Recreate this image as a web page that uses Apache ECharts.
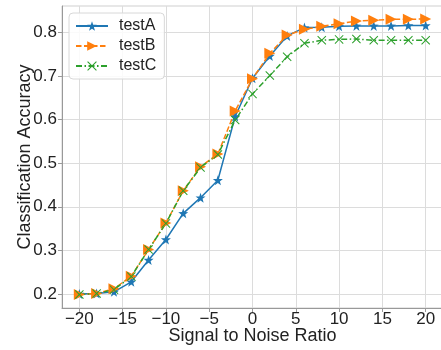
<!DOCTYPE html>
<html>
<head>
<meta charset="utf-8">
<script src="https://cdn.jsdelivr.net/npm/echarts@6/dist/echarts.min.js"></script>
<style>html,body{margin:0;padding:0;background:#fff}#c{width:441px;height:350px}</style>
</head>
<body>
<div id="c"></div>
<script>
const snr = [-20,-18,-16,-14,-12,-10,-8,-6,-4,-2,0,2,4,6,8,10,12,14,16,18,20];
const testA = [0.200,0.201,0.205,0.228,0.278,0.325,0.385,0.421,0.461,0.607,0.695,0.746,0.792,0.811,0.812,0.814,0.815,0.815,0.815,0.816,0.816];
const testB = [0.199,0.201,0.212,0.241,0.302,0.363,0.437,0.492,0.521,0.620,0.694,0.752,0.794,0.807,0.814,0.820,0.826,0.828,0.830,0.830,0.831];
const testC = [0.199,0.201,0.210,0.240,0.302,0.362,0.437,0.490,0.520,0.599,0.659,0.701,0.744,0.775,0.782,0.784,0.785,0.782,0.782,0.782,0.782];
const xTicks = [-20,-15,-10,-5,0,5,10,15,20];
const yTicks = [0.2,0.3,0.4,0.5,0.6,0.7,0.8];

const pair = (ys) => snr.map((x,i)=>[x, ys[i]]);
const star = 'path://M0,-10 L2.35,-3.24 L9.51,-3.09 L3.8,1.24 L5.88,8.09 L0,4 L-5.88,8.09 L-3.8,1.24 L-9.51,-3.09 L-2.35,-3.24 Z';
const xmark = 'path://M-5,-4.2 L-4.2,-5 L0,-0.8 L4.2,-5 L5,-4.2 L0.8,0 L5,4.2 L4.2,5 L0,0.8 L-4.2,5 L-5,4.2 L-0.8,0 Z';
const font = 'Liberation Sans, Arial, sans-serif';
const chart = echarts.init(document.getElementById('c'), null, {renderer:'canvas'});
chart.setOption({
  animation:false,
  backgroundColor:'#fff',
  grid:{left:62, top:6, width:381, height:302, show:true, borderColor:'#cfcfcf', borderWidth:1, containLabel:false, outerBoundsMode:'none'},
  xAxis:{
    type:'value', min:-22, max:22,
    axisLine:{show:true, onZero:false, lineStyle:{color:'#999', width:1}},
    axisTick:{show:true, customValues:xTicks, length:4, lineStyle:{color:'#999'}},
    axisLabel:{customValues:xTicks, margin:3, fontSize:17, color:'#222', fontFamily:font,
      formatter:(v)=>String(v).replace('-', '\u2212')},
    splitLine:{show:true, lineStyle:{color:'#dcdcdc', width:1}},
    name:'Signal to Noise Ratio', nameLocation:'middle', nameGap:19, nameMoveOverlap:false,
    nameTextStyle:{fontSize:18, color:'#222', fontFamily:font}
  },
  yAxis:{
    type:'value', min:0.1679, max:0.8606,
    axisLine:{show:true, onZero:false, lineStyle:{color:'#999', width:1}},
    axisTick:{show:true, customValues:yTicks, length:4, lineStyle:{color:'#999'}},
    axisLabel:{customValues:yTicks, margin:5, fontSize:17, color:'#222', fontFamily:font,
      formatter:(v)=>v.toFixed(1)},
    splitLine:{show:true, lineStyle:{color:'#dcdcdc', width:1}},
    name:'Classification Accuracy', nameLocation:'middle', nameGap:28, nameMoveOverlap:false,
    nameTextStyle:{fontSize:18, color:'#222', fontFamily:font}
  },
  legend:{
    orient:'vertical', left:69, top:13, padding:[5,8,5,6],
    itemWidth:32, itemHeight:12, itemGap:4,
    backgroundColor:'rgba(255,255,255,0.85)', borderColor:'#d8d8d8', borderWidth:1, borderRadius:4,
    textStyle:{fontSize:16, color:'#222', fontFamily:font, padding:[0,0,0,6]},
    data:['testA','testB','testC']
  },
  series:[
    {name:'testA', type:'line', data:pair(testA), color:'#1f77b4',
      symbol:star, symbolSize:10, lineStyle:{width:1.5, type:'solid'}, itemStyle:{color:'#1f77b4'}},
    {name:'testB', type:'line', data:pair(testB), color:'#ff7f0e',
      symbol:'triangle', symbolRotate:-90, symbolSize:11, lineStyle:{width:1.5, type:[5.5,2.5]}, itemStyle:{color:'#ff7f0e'}},
    {name:'testC', type:'line', data:pair(testC), color:'#2ca02c',
      symbol:xmark, symbolSize:9, lineStyle:{width:1.5, type:[6,2.5,1.5,2.5]}, itemStyle:{color:'#2ca02c'}}
  ]
});
</script>
</body>
</html>
